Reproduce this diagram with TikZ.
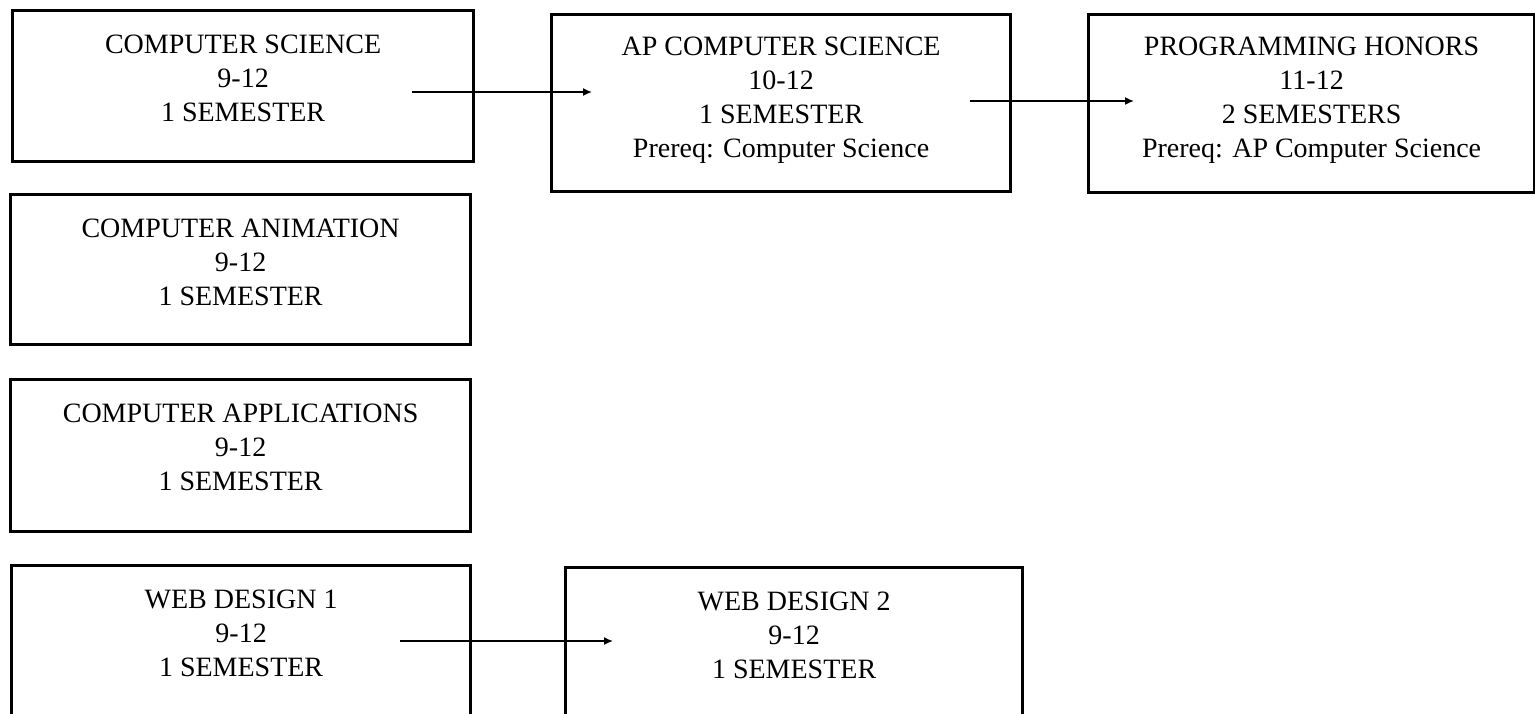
\documentclass[tikz,border=0pt]{standalone}
\usepackage{fontspec}
\setmainfont{Liberation Serif}
\usetikzlibrary{arrows.meta}

\begin{document}
\begin{tikzpicture}[x=1pt, y=-1pt]
	\useasboundingbox (0,0) rectangle (1535,713);
	\clip (0,0) rectangle (1535,713);
	\tikzstyle{course}=[draw, line width=3.2pt, anchor=north west, inner sep=0pt]
	\tikzstyle{info}=[anchor=north, align=center, inner sep=0pt, font=\fontsize{28}{34}\selectfont]
	\tikzstyle{arr}=[line width=1.5pt, -{Latex[length=9pt, width=8pt]}]
	% course boxes
	\node[course, minimum width=461pt, minimum height=151pt] (CS) at (11,9) {};
	\node[course, minimum width=459pt, minimum height=177pt] (APCS) at (550,13) {};
	\node[course, minimum width=446pt, minimum height=178pt] (PH) at (1087,13) {};
	\node[course, minimum width=460pt, minimum height=150pt] (CAN) at (9,193) {};
	\node[course, minimum width=460pt, minimum height=152pt] (CAP) at (9,378) {};
	\node[course, minimum width=459pt, minimum height=152pt] (WD1) at (10,564) {};
	\node[course, minimum width=457pt, minimum height=152pt] (WD2) at (564,566) {};
	% texts
	\node[info] (CS-t) at ([yshift=-26pt]CS.north) {COMPUTER SCIENCE\\9-12\\1 SEMESTER};
	\node[info] (APCS-t) at ([yshift=-24pt]APCS.north) {AP COMPUTER SCIENCE\\10-12\\1 SEMESTER\\Prereq: Computer Science};
	\node[info] (PH-t) at ([yshift=-24pt]PH.north) {PROGRAMMING HONORS\\11-12\\2 SEMESTERS\\Prereq: AP Computer Science};
	\node[info] (CAN-t) at ([yshift=-26pt]CAN.north) {COMPUTER ANIMATION\\9-12\\1 SEMESTER};
	\node[info] (CAP-t) at ([yshift=-26pt]CAP.north) {COMPUTER APPLICATIONS\\9-12\\1 SEMESTER};
	\node[info] (WD1-t) at ([yshift=-26pt]WD1.north) {WEB DESIGN 1\\9-12\\1 SEMESTER};
	\node[info] (WD2-t) at ([yshift=-26pt]WD2.north) {WEB DESIGN 2\\9-12\\1 SEMESTER};
	% arrows
	\coordinate (A1) at (412,92);
	\coordinate (A2) at (592,92);
	\coordinate (A3) at (970,101);
	\coordinate (A4) at (1134,101);
	\coordinate (A5) at (400,641);
	\coordinate (A6) at (613,641);
	\draw[arr] (A1) -- (A2);
	\draw[arr] (A3) -- (A4);
	\draw[arr] (A5) -- (A6);
\end{tikzpicture}
\end{document}
